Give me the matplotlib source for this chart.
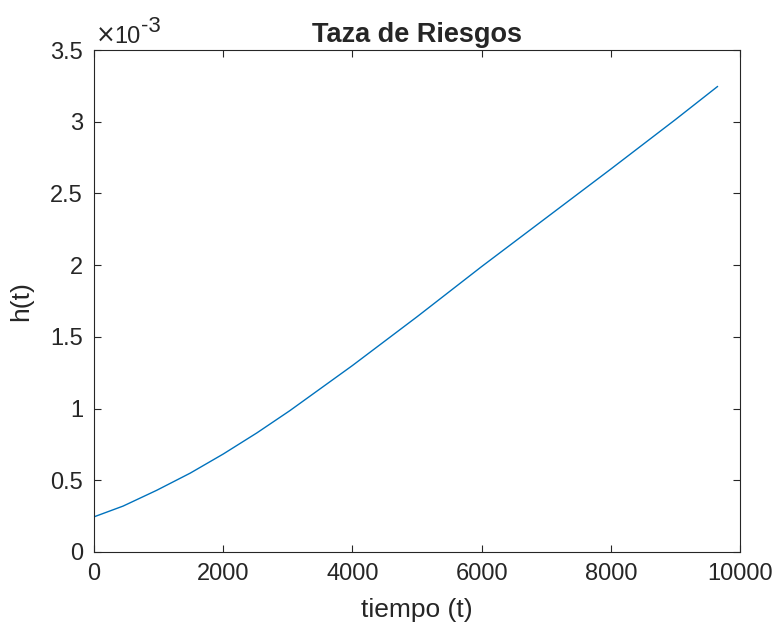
import matplotlib
matplotlib.use("Agg")
import matplotlib.pyplot as plt
from matplotlib.ticker import FuncFormatter

plt.rcParams['font.family'] = ['Liberation Sans', 'DejaVu Sans']

# tiempo (t) and h(t)
t = [0, 450, 970, 1490, 2000, 2520, 3030, 4000, 5000, 6000, 7000, 8000, 9000, 9650]
h = [0.245e-3, 0.32e-3, 0.43e-3, 0.55e-3, 0.683e-3, 0.83e-3, 0.985e-3, 1.30e-3,
     1.64e-3, 1.99e-3, 2.33e-3, 2.67e-3, 3.015e-3, 3.245e-3]

xticks = [0, 2000, 4000, 6000, 8000, 10000]
yticks = [0, 0.5e-3, 1e-3, 1.5e-3, 2e-3, 2.5e-3, 3e-3, 3.5e-3]

txt = '#262626'
fig = plt.figure(figsize=(7.79, 6.33), dpi=100)
ax = fig.add_axes([0.1207, 0.128, 0.8293, 0.793])
ax.plot(t, h, color='#0072BD', linewidth=1.0)

ax.set_xlim(0, 10000)
ax.set_ylim(0, 3.5e-3)
ax.set_xticks(xticks)
ax.set_yticks(yticks)
ax.yaxis.set_major_formatter(FuncFormatter(lambda v, p: '%g' % round(v * 1e3, 3)))
ax.tick_params(direction='in', top=True, right=True, length=5, width=0.8,
               labelsize=17, colors=txt)
ax.tick_params(axis='x', pad=8)
ax.tick_params(axis='y', pad=8)
for s in ax.spines.values():
    s.set_color(txt)
    s.set_linewidth(0.8)

ax.set_xlabel('tiempo (t)', fontsize=19, color=txt, labelpad=9)
ax.set_ylabel('h(t)', fontsize=19, color=txt, labelpad=12)
ax.set_title('Taza de Riesgos', fontsize=19.5, fontweight='bold', color=txt, pad=6)

# exponent label like MATLAB
ax.text(0.003, 1.014, '×', transform=ax.transAxes, fontsize=17, color=txt,
        family='DejaVu Sans', ha='left', va='baseline', clip_on=False)
ax.text(0.032, 1.014, '10', transform=ax.transAxes, fontsize=17, color=txt,
        ha='left', va='baseline', clip_on=False)
ax.text(0.073, 1.036, '-3', transform=ax.transAxes, fontsize=16, color=txt,
        ha='left', va='baseline', clip_on=False)

fig.savefig('out.png', dpi=100)
